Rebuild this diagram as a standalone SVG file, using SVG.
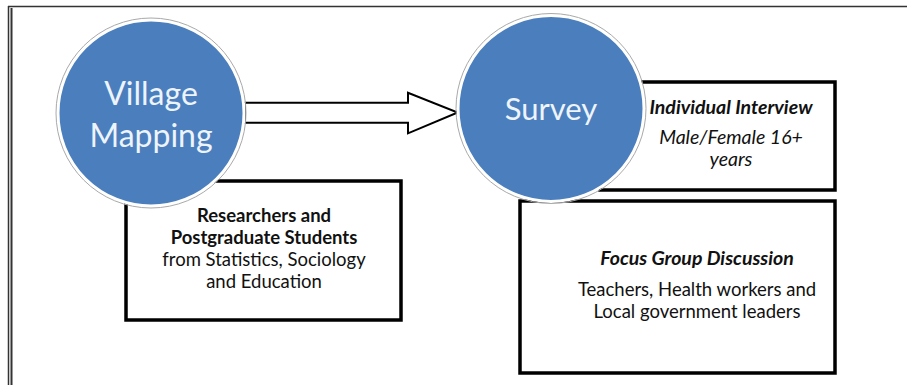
<svg xmlns="http://www.w3.org/2000/svg" width="907" height="385" viewBox="0 0 907 385">
<style>
.box{fill:#ffffff;stroke:#000000;stroke-width:3.5}
.circ{fill:#4a7ebd;stroke:#ffffff;stroke-width:3}
.ring{fill:none;stroke:#a9a9a9;stroke-width:1}
.ct{font-family:Lato,"Open Sans",sans-serif;fill:#eef4fb;text-anchor:middle}
.bt{font-family:Lato,"Open Sans",sans-serif;fill:#111111;text-anchor:middle}
.frame{stroke:#333333;fill:none}
</style>
<rect width="907" height="385" fill="#ffffff"/>
<g id="frame">
<line class="frame" x1="8.5" y1="6" x2="8.5" y2="385" stroke-width="1.5"/>
<line class="frame" x1="11.5" y1="8" x2="11.5" y2="385" stroke-width="2"/>
<line class="frame" x1="8" y1="6.5" x2="907" y2="6.5" stroke-width="1.5"/>
</g>
<g id="box-researchers">
<rect class="box" x="126" y="181" width="275" height="139"/>
<text class="bt" x="264" y="222" font-size="18.5" font-weight="bold">Researchers and</text>
<text class="bt" x="264" y="244" font-size="18.5" font-weight="bold">Postgraduate Students</text>
<text class="bt" x="264" y="266" font-size="18.5">from Statistics, Sociology</text>
<text class="bt" x="264" y="288" font-size="18.5">and Education</text>
</g>
<g id="box-individual">
<rect class="box" x="600" y="82" width="235" height="108"/>
<text class="bt" x="731" y="114" font-size="19.5" font-weight="bold" font-style="italic">Individual Interview</text>
<text class="bt" x="731" y="144" font-size="19.5" font-style="italic" fill="#333">Male/Female 16+</text>
<text class="bt" x="731" y="166" font-size="19.5" font-style="italic" fill="#333">years</text>
</g>
<g id="box-focus">
<rect class="box" x="520" y="201" width="315" height="172"/>
<text class="bt" x="697" y="265" font-size="19.5" font-weight="bold" font-style="italic">Focus Group Discussion</text>
<text class="bt" x="697" y="296" font-size="18.5">Teachers, Health workers and</text>
<text class="bt" x="697" y="318" font-size="18.5">Local government leaders</text>
</g>
<g id="connectors">
<polygon points="245,102.7 408,102.7 408,92.7 457.7,112.5 408,133.3 408,122.7 245,122.7" fill="#ffffff" stroke="#000000" stroke-width="2" stroke-linejoin="miter"/>
</g>
<g id="node-village">
<circle class="circ" cx="151" cy="113" r="93"/>
<circle class="ring" cx="151" cy="113" r="95"/>
<text class="ct" x="151" y="105" font-size="32">Village</text>
<text class="ct" x="151" y="147" font-size="32">Mapping</text>
</g>
<g id="node-survey">
<circle class="circ" cx="551" cy="108.5" r="93"/>
<circle class="ring" cx="551" cy="108.5" r="95"/>
<text class="ct" x="551" y="120" font-size="31">Survey</text>
</g>
</svg>
